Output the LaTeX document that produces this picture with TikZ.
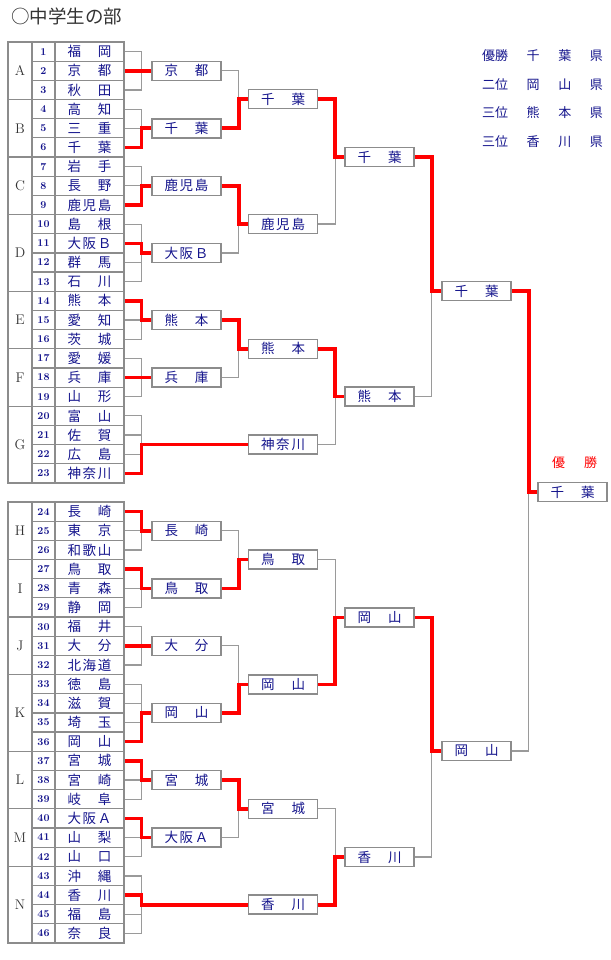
\documentclass[tikz,border=0pt]{standalone}
\usepackage{fontspec}
\usepackage{xcolor}
\usepackage{tikz}
\usetikzlibrary{positioning, calc}
\newfontfamily\jpfont{Noto Sans CJK JP}
\definecolor{navy}{HTML}{14148C}
\definecolor{wire}{HTML}{9A9A9A}
\definecolor{frame}{HTML}{8C8C8C}
\definecolor{winred}{HTML}{FF0000}
\newcommand{\jn}[1]{\makebox[44pt][s]{#1}}

\begin{document}
\begin{tikzpicture}[x=1pt, y=-1pt,
    declare function={ry(\r)=(\r<24)*(42+(\r-0.5)*19.174)+(\r>23)*(502+(\r-23.5)*19.174);},
    cell/.style={draw=frame, line width=1.2pt, inner sep=0pt, minimum height=19.174pt},
    namecell/.style={cell, minimum width=69pt, font=\jpfont\fontsize{13.5}{14}\selectfont, text=navy},
    numcell/.style={cell, minimum width=23pt, font=\bfseries\fontsize{10.5}{11}\selectfont, text=navy},
    groupcell/.style={cell, minimum width=24pt, font=\fontsize{14}{15}\selectfont, text=black!80},
    box/.style={draw=frame, line width=1.5pt, fill=white, inner sep=0pt, minimum width=69pt, minimum height=19pt, font=\jpfont\fontsize{13.5}{14}\selectfont, text=navy},
    lose/.style={draw=wire, line width=1.2pt},
    win/.style={draw=winred, line width=3.6pt},
    legend/.style={font=\jpfont\fontsize{13}{14}\selectfont, text=navy, inner sep=0pt}
  ]
    \useasboundingbox (0,0) rectangle (610,960);

    % Title
    \node[anchor=west, inner sep=0pt, font=\jpfont\fontsize{18.5}{19}\selectfont, text=black!80] (title) at (11,16) {○中学生の部};

    % Entry table
    \foreach \k/\nm in {1/{福\hfill 岡}, 2/{京\hfill 都}, 3/{秋\hfill 田}, 4/{高\hfill 知}, 5/{三\hfill 重}, 6/{千\hfill 葉},
        7/{岩\hfill 手}, 8/{長\hfill 野}, 9/{鹿\hfill 児\hfill 島}, 10/{島\hfill 根}, 11/{大\hfill 阪\hfill Ｂ}, 12/{群\hfill 馬},
        13/{石\hfill 川}, 14/{熊\hfill 本}, 15/{愛\hfill 知}, 16/{茨\hfill 城}, 17/{愛\hfill 媛}, 18/{兵\hfill 庫},
        19/{山\hfill 形}, 20/{富\hfill 山}, 21/{佐\hfill 賀}, 22/{広\hfill 島}, 23/{神\hfill 奈\hfill 川},
        24/{長\hfill 崎}, 25/{東\hfill 京}, 26/{和\hfill 歌\hfill 山}, 27/{鳥\hfill 取}, 28/{青\hfill 森}, 29/{静\hfill 岡},
        30/{福\hfill 井}, 31/{大\hfill 分}, 32/{北\hfill 海\hfill 道}, 33/{徳\hfill 島}, 34/{滋\hfill 賀}, 35/{埼\hfill 玉},
        36/{岡\hfill 山}, 37/{宮\hfill 城}, 38/{宮\hfill 崎}, 39/{岐\hfill 阜}, 40/{大\hfill 阪\hfill Ａ}, 41/{山\hfill 梨},
        42/{山\hfill 口}, 43/{沖\hfill 縄}, 44/{香\hfill 川}, 45/{福\hfill 島}, 46/{奈\hfill 良}} {
      \node[numcell] (c\k) at (43.5,{ry(\k)}) {\k};
      \node[namecell] (n\k) at (89.5,{ry(\k)}) {\jn{\nm}};
    }
    \foreach \g/\a/\b in {A/1/3, B/4/6, C/7/9, D/10/13, E/14/16, F/17/19, G/20/23,
        H/24/26, I/27/29, J/30/32, K/33/36, L/37/39, M/40/42, N/43/46}
      \node[groupcell, minimum height={(\b-\a+1)*19.174pt}] (g\g) at (20,{(ry(\a)+ry(\b))/2}) {\g};

    % Round 1
    \node[box] (ra) at (186.5,70.8) {\jn{京\hfill 都}};
    \node[box] (rb) at (186.5,128.3) {\jn{千\hfill 葉}};
    \node[box] (rc) at (186.5,185.8) {\jn{鹿\hfill 児\hfill 島}};
    \node[box] (rd) at (186.5,252.9) {\jn{大\hfill 阪\hfill Ｂ}};
    \node[box] (re) at (186.5,320.0) {\jn{熊\hfill 本}};
    \node[box] (rf) at (186.5,377.6) {\jn{兵\hfill 庫}};
    \node[box] (rh) at (186.5,530.8) {\jn{長\hfill 崎}};
    \node[box] (ri) at (186.5,588.3) {\jn{鳥\hfill 取}};
    \node[box] (rj) at (186.5,645.8) {\jn{大\hfill 分}};
    \node[box] (rk) at (186.5,712.9) {\jn{岡\hfill 山}};
    \node[box] (rl) at (186.5,780.0) {\jn{宮\hfill 城}};
    \node[box] (rm) at (186.5,837.5) {\jn{大\hfill 阪\hfill Ａ}};

    % Round 2
    \node[box] (sa) at (283,99.2) {\jn{千\hfill 葉}};
    \node[box] (sb) at (283,224) {\jn{鹿\hfill 児\hfill 島}};
    \node[box] (sc) at (283,348.8) {\jn{熊\hfill 本}};
    \node[box] (sd) at (283,444.6) {\jn{神\hfill 奈\hfill 川}};
    \node[box] (se) at (283,559.5) {\jn{鳥\hfill 取}};
    \node[box] (sf) at (283,684.4) {\jn{岡\hfill 山}};
    \node[box] (sg) at (283,808.8) {\jn{宮\hfill 城}};
    \node[box] (sh) at (283,904.7) {\jn{香\hfill 川}};

    % Round 3, semifinal, final
    \node[box] (ta) at (379.5,157) {\jn{千\hfill 葉}};
    \node[box] (tb) at (379.5,396.5) {\jn{熊\hfill 本}};
    \node[box] (tc) at (379.5,617.3) {\jn{岡\hfill 山}};
    \node[box] (td) at (379.5,857) {\jn{香\hfill 川}};
    \node[box] (qa) at (476.5,291) {\jn{千\hfill 葉}};
    \node[box] (qb) at (476.5,751) {\jn{岡\hfill 山}};
    \node[box] (fin) at (572.5,492) {\jn{千\hfill 葉}};
    \node[legend, text=winred] (champ) at (574.5,463) {\makebox[45pt][s]{優\hfill 勝}};

    % Results
    \node[legend] (lg1) at (542.5,56) {\makebox[121pt][s]{優勝\hfill 千\hfill 葉\hfill 県}};
    \node[legend] (lg2) at (542.5,85) {\makebox[121pt][s]{二位\hfill 岡\hfill 山\hfill 県}};
    \node[legend] (lg3) at (542.5,113) {\makebox[121pt][s]{三位\hfill 熊\hfill 本\hfill 県}};
    \node[legend] (lg4) at (542.5,142) {\makebox[121pt][s]{三位\hfill 香\hfill 川\hfill 県}};

    % Bracket lines
    \foreach \bx/\a/\b in {ra/1/3, rb/4/6, rc/7/9, rd/10/13, re/14/16, rf/17/19, sd/20/23,
        rh/24/26, ri/27/29, rj/30/32, rk/33/36, rl/37/39, rm/40/42, sh/43/46}
      \foreach \k in {\a,...,\b}
        \draw[lose] (n\k.east) -- ++(17,0) |- (\bx.west);
    \foreach \p/\q in {ra/sa, rb/sa, rc/sb, rd/sb, re/sc, rf/sc, rh/se, ri/se, rj/sf, rk/sf, rl/sg, rm/sg,
        sa/ta, sb/ta, sc/tb, sd/tb, se/tc, sf/tc, sg/td, sh/td, ta/qa, tb/qa, tc/qb, td/qb, qa/fin, qb/fin}
      \draw[lose] (\p.east) -- ++(17,0) |- (\q.west);

    % Winners
    \foreach \p/\q in {n2/ra, n6/rb, n9/rc, n11/rd, n14/re, n18/rf, n23/sd, n24/rh, n27/ri, n31/rj, n36/rk,
        n37/rl, n40/rm, n44/sh, rb/sa, rc/sb, re/sc, ri/se, rk/sf, rl/sg, sa/ta, sc/tb, sf/tc, sh/td,
        ta/qa, tc/qb, qa/fin}
      \draw[win] (\p.east) -- ++(17,0) |- (\q.west);
\end{tikzpicture}
\end{document}
